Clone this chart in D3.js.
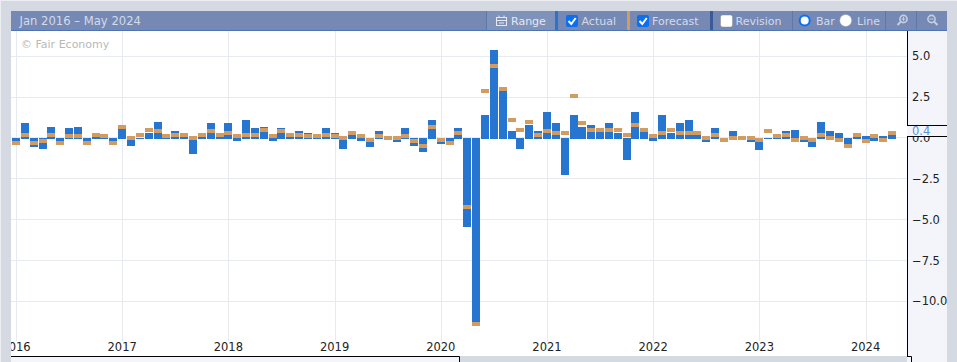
<!DOCTYPE html>
<html>
<head>
<meta charset="utf-8">
<script src="https://cdn.jsdelivr.net/npm/d3@7"></script>
<style>
html, body { margin: 0; padding: 0; background: #d5d9e2; overflow: hidden; }
text { font-family: "DejaVu Sans", sans-serif; font-size: 11px; }
</style>
</head>
<body>
<div id="d3-container"></div>
<script>
// -------------------- Data --------------------

const yearLabels = ["2016", "2017", "2018", "2019", "2020", "2021", "2022", "2023", "2024"];
const yTicks = [5, 2.5, 0, -2.5, -5, -7.5, -10];

// Jan 2016 to Apr 2024, one value per month
const actual = [
  -0.2, 0.9, -0.5, -0.6, 0.7, -0.2, 0.6, 0.7, -0.2, 0.1, 0.0, -0.2,
  0.6, -0.4, 0.0, 0.3, 1.0, 0.0, 0.4, 0.1, -0.9, 0.1, 0.9, 0.1,
  0.9, -0.1, 1.1, 0.6, 0.7, -0.1, 0.6, 0.1, 0.4, 0.3, 0.0, 0.6,
  0.3, -0.6, 0.2, -0.1, -0.5, 0.4, 0.0, -0.2, 0.6, -0.4, -0.8, 1.1,
  -0.3, -0.2, 0.6, -5.4, -11.2, 1.4, 5.4, 2.9, 0.4, -0.6, 0.8, 0.4,
  1.6, 0.9, -2.2, 1.4, 0.7, 0.8, 0.4, 0.9, 0.3, -1.3, 1.6, 0.4,
  -0.1, 1.4, 0.3, 0.9, 1.1, 0.2, -0.2, 0.6, -0.1, 0.4, 0.0, -0.2,
  -0.7, 0.0, 0.0, 0.4, 0.5, -0.2, -0.5, 1.0, 0.4, 0.3, -0.4, 0.1,
  0.1, -0.1, 0.1, 0.4
];
const forecast = [
  -0.3, 0.2, -0.3, -0.2, 0.2, -0.3, 0.1, 0.1, -0.3, 0.2, 0.1, -0.3,
  0.7, 0.0, 0.2, 0.5, 0.4, 0.1, 0.2, 0.2, 0.0, 0.2, 0.4, 0.2,
  0.3, 0.1, 0.2, 0.2, 0.5, 0.1, 0.4, 0.2, 0.2, 0.1, 0.1, 0.2,
  0.1, 0.0, 0.3, 0.1, -0.1, 0.1, 0.0, 0.0, 0.1, -0.2, -0.5, 0.7,
  -0.1, -0.3, 0.3, -4.2, -11.4, 2.9, 4.4, 3.0, 1.1, 0.5, 1.0, 0.2,
  0.4, 0.3, 0.3, 2.6, 0.9, 0.5, 0.5, 0.5, 0.5, 0.2, 0.8, 0.5,
  0.1, 0.3, 0.5, 0.3, 0.3, 0.3, 0.0, 0.2, -0.1, 0.0, 0.0, 0.0,
  -0.1, 0.4, 0.1, 0.2, -0.1, 0.0, -0.1, 0.2, 0.0, -0.1, -0.5, 0.2,
  -0.2, 0.1, -0.1, 0.3
];
const latestLabel = "0.4";

// -------------------- Constants --------------------

const svgWidth = 957;
const svgHeight = 362;
const plot = { left: 11, right: 907, top: 31, bottom: 356 };
const blue = "#2675d0";
const orange = "#d39b5e";
const gridColor = "#e8eaf2";
const headerColor = "#7589b4";
const panelColor = "#f3f5fa";
const headerText = "#d3dbea";

const svg = d3.select("#d3-container").append("svg")
  .attr("width", svgWidth)
  .attr("height", svgHeight)
  .style("display", "block");

// -------------------- Scales --------------------

const xScale = d3.scaleBand()
  .domain(d3.range(actual.length))
  .range([11.55, 11.55 + 8.85 * actual.length])
  .paddingInner(0.1)
  .paddingOuter(0.05);

const xCenter = i => xScale(i) + xScale.bandwidth() / 2;

const yScale = d3.scaleLinear()
  .domain([5, -10])
  .range([56.3, 301.3]);

// -------------------- Backgrounds --------------------

svg.append("rect").attr("x", 0).attr("y", 0).attr("width", svgWidth).attr("height", 1).attr("fill", "#eceef3");
svg.append("rect").attr("x", 0).attr("y", 0).attr("width", 1).attr("height", svgHeight).attr("fill", "#eceef3");

svg.append("rect")
  .attr("x", plot.right).attr("y", plot.top)
  .attr("width", 947 - plot.right).attr("height", svgHeight - plot.top)
  .attr("fill", panelColor);

svg.append("rect")
  .attr("x", plot.left).attr("y", plot.top)
  .attr("width", plot.right - plot.left).attr("height", plot.bottom - plot.top)
  .attr("fill", "#fff");

// navigator strip under the plot
svg.append("rect")
  .attr("x", plot.left).attr("y", 357)
  .attr("width", 448).attr("height", 5)
  .attr("fill", panelColor);

svg.append("defs").append("clipPath").attr("id", "plotClip")
  .append("rect")
  .attr("x", plot.left).attr("y", plot.top)
  .attr("width", plot.right - plot.left).attr("height", plot.bottom - plot.top);

const g = svg.append("g").attr("clip-path", "url(#plotClip)");

// -------------------- Grid --------------------

const janIndexes = yearLabels.map((d, i) => i * 12);

g.selectAll(".vGrid")
  .data(janIndexes)
  .join("line")
  .attr("class", "vGrid")
  .attr("x1", d => Math.round(xCenter(d)) + 0.5)
  .attr("x2", d => Math.round(xCenter(d)) + 0.5)
  .attr("y1", plot.top)
  .attr("y2", 341)
  .attr("stroke", gridColor);

g.selectAll(".hGrid")
  .data(yTicks)
  .join("line")
  .attr("class", "hGrid")
  .attr("x1", plot.left)
  .attr("x2", plot.right)
  .attr("y1", d => Math.floor(yScale(d)) + 0.5)
  .attr("y2", d => Math.floor(yScale(d)) + 0.5)
  .attr("stroke", gridColor);

svg.append("text")
  .attr("x", 21).attr("y", 48)
  .attr("fill", "#b9b9b9")
  .text("© Fair Economy");

// -------------------- Bars --------------------

const y0 = Math.round(yScale(0));

g.selectAll(".actualBar")
  .data(actual)
  .join("rect")
  .attr("class", "actualBar")
  .attr("x", (d, i) => Math.round(xScale(i)))
  .attr("width", 8)
  .attr("y", d => Math.min(Math.round(yScale(d)), y0))
  .attr("height", d => Math.abs(Math.round(yScale(d)) - y0) + 1)
  .attr("fill", blue);

g.selectAll(".forecastBar")
  .data(forecast)
  .join("rect")
  .attr("class", "forecastBar")
  .attr("x", (d, i) => Math.round(xScale(i)))
  .attr("width", 8)
  .attr("y", d => Math.round(yScale(d)) - 2)
  .attr("height", 4)
  .attr("fill", orange);

// -------------------- Axes --------------------

const xAxisG = g.append("g")
  .attr("transform", "translate(0, 343)")
  .call(d3.axisBottom(xScale)
    .tickValues(janIndexes)
    .tickSize(0)
    .tickPadding(0)
    .tickFormat((d, i) => yearLabels[i]));

xAxisG.select(".domain").remove();
xAxisG.selectAll("text").attr("fill", "#222").style("font-size", "11.5px");

const yAxisG = svg.append("g")
  .attr("transform", `translate(${plot.right}, 0)`)
  .call(d3.axisRight(yScale).tickValues(yTicks).tickSize(0).tickPadding(5).tickFormat(d3.format(".1f")));

yAxisG.select(".domain").remove();
yAxisG.selectAll("text").attr("fill", "#222").style("font-size", "11.5px");

// right hand border, broken by the latest value label
[[plot.top, 125], [136, plot.bottom + 1]].forEach(d => {
  svg.append("line")
    .attr("x1", 907.5).attr("x2", 907.5)
    .attr("y1", d[0]).attr("y2", d[1])
    .attr("stroke", "#000");
});

svg.append("rect")
  .attr("x", 908).attr("y", 126)
  .attr("width", 39).attr("height", 10)
  .attr("fill", panelColor);

[125.5, 136.5].forEach(y => {
  svg.append("line")
    .attr("x1", 907).attr("x2", 947)
    .attr("y1", y).attr("y2", y)
    .attr("stroke", "#000");
});

svg.append("text")
  .attr("x", 912).attr("y", 135)
  .attr("fill", "#5a93dc")
  .style("font-size", "11.5px")
  .text(latestLabel);

// navigator edges
svg.append("path")
  .attr("d", "M11,356.5H459.5V362M907,356.5H911.5V362")
  .attr("fill", "none")
  .attr("stroke", "#000");

// -------------------- Header --------------------

const header = svg.append("g");

header.append("rect")
  .attr("x", 11).attr("y", 11).attr("width", 936).attr("height", 19)
  .attr("fill", headerColor);
header.append("rect")
  .attr("x", 11).attr("y", 30).attr("width", 936).attr("height", 1)
  .attr("fill", "#4f72b2");

header.append("text")
  .attr("x", 19.5).attr("y", 25)
  .attr("fill", headerText)
  .style("font-size", "11.6px")
  .text("Jan 2016 – May 2024");

header.append("rect")
  .attr("x", 487).attr("y", 11).attr("width", 68).attr("height", 19)
  .attr("fill", "#7e92ba");

// separators
[486, 792, 885, 916].forEach(x => {
  header.append("rect")
    .attr("x", x).attr("y", 11).attr("width", 1).attr("height", 19)
    .attr("fill", "#5f78aa");
});

// series colour swatches
[[555, blue], [627, orange], [710, "#3a5a98"]].forEach(d => {
  header.append("rect")
    .attr("x", d[0]).attr("y", 11).attr("width", 3).attr("height", 19)
    .attr("fill", d[1]);
});

// calendar icon
const cal = header.append("g").attr("transform", "translate(496, 15)")
  .attr("fill", "none").attr("stroke", "#e4e8f1");
cal.append("rect").attr("x", 0.5).attr("y", 2.5).attr("width", 10).attr("height", 8);
cal.append("path").attr("d", "M0.5,5.5H10.5M3,0.5V3M8,0.5V3M3,8H8");

header.append("text").attr("x", 511).attr("y", 25).attr("fill", "#e4e8f1").text("Range");

// checkboxes
const checks = [
  { x: 566, on: true, label: "Actual", tx: 581.5 },
  { x: 637, on: true, label: "Forecast", tx: 652 },
  { x: 720.5, on: false, label: "Revision", tx: 735.5 }
];

checks.forEach(c => {
  header.append("rect")
    .attr("x", c.x).attr("y", 15).attr("width", 12).attr("height", 12).attr("rx", 2)
    .attr("fill", c.on ? "#0b6ff0" : "#fff")
    .attr("stroke", c.on ? "none" : "#8a8a8a")
    .attr("stroke-width", 0.5);
  if (c.on) {
    header.append("path")
      .attr("d", `M${c.x + 2.5},21 l2.8,3 l4.4,-6`)
      .attr("fill", "none").attr("stroke", "#fff").attr("stroke-width", 2);
  }
  header.append("text").attr("x", c.tx).attr("y", 25).attr("fill", headerText).text(c.label);
});

// bar / line radio
header.append("circle").attr("cx", 804.7).attr("cy", 20.5).attr("r", 5)
  .attr("fill", "#fff").attr("stroke", "#0b6ff0").attr("stroke-width", 2);
header.append("text").attr("x", 816).attr("y", 25).attr("fill", headerText).text("Bar");
header.append("circle").attr("cx", 845.7).attr("cy", 20.5).attr("r", 6)
  .attr("fill", "#fff").attr("stroke", "#999").attr("stroke-width", 0.5);
header.append("text").attr("x", 857).attr("y", 25).attr("fill", headerText).text("Line");

// zoom icons, the handle points to opposite sides
[{ x: 903.5, plus: true }, { x: 931.5, plus: false }].forEach(z => {
  const ic = header.append("g").attr("transform", `translate(${z.x}, 19)`)
    .attr("fill", "none").attr("stroke", "#c4cee2").attr("stroke-width", 1.6);
  ic.append("circle").attr("r", 3.6);
  ic.append("path").attr("d", z.plus ? "M-2.5,2.5 L-6,6" : "M2.5,2.5 L6,6").attr("stroke-width", 2);
  ic.append("path").attr("d", z.plus ? "M-2,0H2M0,-2V2" : "M-2,0H2").attr("stroke-width", 1);
});
</script>
</body>
</html>
